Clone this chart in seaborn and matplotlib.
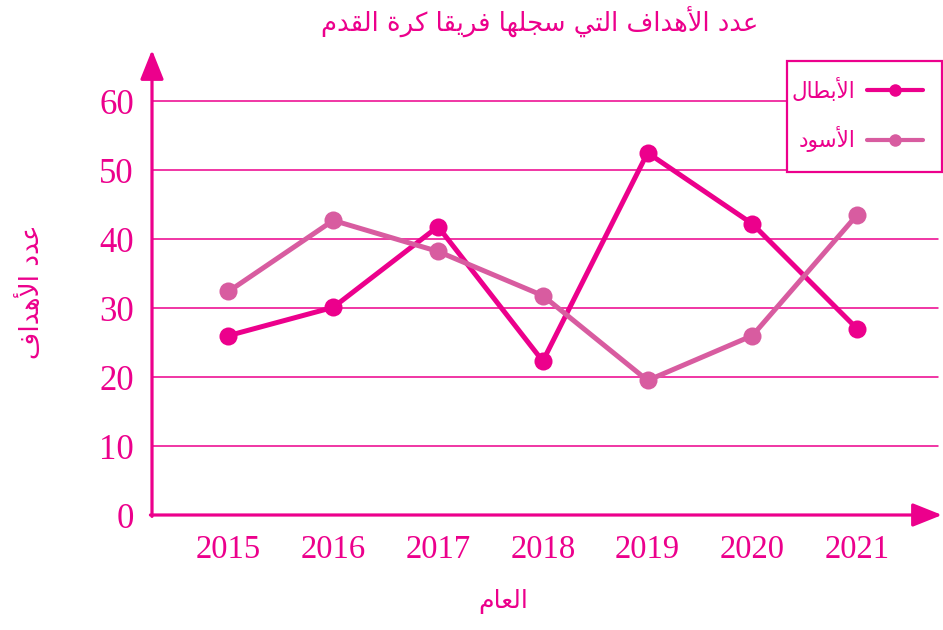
import matplotlib
matplotlib.use("Agg")
import matplotlib.pyplot as plt
from matplotlib.patches import Rectangle
import seaborn as sns
import pandas as pd

# ---- data ----
years = ["2015", "2016", "2017", "2018", "2019", "2020", "2021"]
teams = ["الأبطال", "الأسود"]
goals_abtal = [26, 30.1, 41.8, 22.3, 52.5, 42.2, 27.0]
goals_asood = [32.4, 42.7, 38.2, 31.8, 19.5, 26.0, 43.5]
y_ticks = [0, 10, 20, 30, 40, 50, 60]

title_text = "عدد الأهداف التي سجلها فريقا كرة القدم"
xlabel_text = "العام"
ylabel_text = "عدد الأهداف"

PINK = "#EC008C"
PINK_LIGHT = "#D85CA0"

# ---- minimal Arabic shaping (contextual forms + RTL order) ----
FORMS = {
    "ا": ("\uFE8D", "\uFE8E", None, None),
    "أ": ("\uFE83", "\uFE84", None, None),
    "ب": ("\uFE8F", "\uFE90", "\uFE91", "\uFE92"),
    "ة": ("\uFE93", "\uFE94", None, None),
    "ت": ("\uFE95", "\uFE96", "\uFE97", "\uFE98"),
    "ج": ("\uFE9D", "\uFE9E", "\uFE9F", "\uFEA0"),
    "د": ("\uFEA9", "\uFEAA", None, None),
    "ر": ("\uFEAD", "\uFEAE", None, None),
    "س": ("\uFEB1", "\uFEB2", "\uFEB3", "\uFEB4"),
    "ط": ("\uFEC1", "\uFEC2", "\uFEC3", "\uFEC4"),
    "ع": ("\uFEC9", "\uFECA", "\uFECB", "\uFECC"),
    "ف": ("\uFED1", "\uFED2", "\uFED3", "\uFED4"),
    "ق": ("\uFED5", "\uFED6", "\uFED7", "\uFED8"),
    "ك": ("\uFED9", "\uFEDA", "\uFEDB", "\uFEDC"),
    "ل": ("\uFEDD", "\uFEDE", "\uFEDF", "\uFEE0"),
    "م": ("\uFEE1", "\uFEE2", "\uFEE3", "\uFEE4"),
    "ه": ("\uFEE9", "\uFEEA", "\uFEEB", "\uFEEC"),
    "و": ("\uFEED", "\uFEEE", None, None),
    "ي": ("\uFEF1", "\uFEF2", "\uFEF3", "\uFEF4"),
    "لا": ("\uFEFB", "\uFEFC", None, None),
    "لأ": ("\uFEF7", "\uFEF8", None, None),
}


def shape(text):
    units = []
    i = 0
    while i < len(text):
        c = text[i]
        if c == "ل" and i + 1 < len(text) and text[i + 1] in "اأ":
            units.append(c + text[i + 1])
            i += 2
        else:
            units.append(c)
            i += 1
    out = []
    for k, u in enumerate(units):
        if u not in FORMS:
            out.append(u)
            continue
        prev = units[k - 1] if k > 0 else None
        nxt = units[k + 1] if k + 1 < len(units) else None
        joins_prev = prev in FORMS and FORMS[prev][2] is not None
        joins_next = FORMS[u][2] is not None and nxt in FORMS
        iso, fin, ini, med = FORMS[u]
        if joins_prev and joins_next:
            out.append(med)
        elif joins_prev:
            out.append(fin)
        elif joins_next:
            out.append(ini)
        else:
            out.append(iso)
    return "".join(out)[::-1]


df = pd.DataFrame({
    "year": years * 2,
    "goals": goals_abtal + goals_asood,
    "team": [shape(teams[0])] * len(years) + [shape(teams[1])] * len(years),
})

sns.set_style("white")
plt.rcParams["font.family"] = ["DejaVu Sans"]

W, H = 943, 630
fig = plt.figure(figsize=(W / 100, H / 100), dpi=100)
ax_left, ax_right, ax_bottom, ax_top = 152, 942, 515, 50
ax = fig.add_axes([ax_left / W, 1 - ax_bottom / H,
                   (ax_right - ax_left) / W, (ax_bottom - ax_top) / H])

# horizontal reference lines
for t in y_ticks[1:]:
    ax.axhline(t, xmin=0, xmax=0.995, color=PINK, lw=1.1, zorder=1)

sns.lineplot(data=df, x="year", y="goals", hue="team", sort=False,
             palette=[PINK, PINK_LIGHT], marker="o", markersize=13,
             markeredgewidth=0, linewidth=3.6, ax=ax, zorder=3)

ax.set_xlim(-0.73, 6.81)
ax.set_ylim(0, 67.4)
ax.set_yticks(y_ticks)
ax.set_xticks(range(len(years)))
ax.set_xticklabels(years)
ax.set_xlabel("")
ax.set_ylabel("")
for s in ax.spines.values():
    s.set_visible(False)
ax.tick_params(axis="both", length=0, colors=PINK)
ax.tick_params(axis="y", pad=13, labelsize=25)
ax.tick_params(axis="x", pad=14, labelsize=23.5)
for lab in ax.get_xticklabels() + ax.get_yticklabels():
    lab.set_fontfamily("Liberation Serif")

# axis arrows
arrow_kw = dict(arrowstyle="-|>,head_length=0.9,head_width=0.36",
                color=PINK, lw=2.3, mutation_scale=20, shrinkA=0, shrinkB=0)
ax.annotate("", xy=(0, 1), xytext=(0, -0.003), xycoords="axes fraction",
            arrowprops=arrow_kw, annotation_clip=False)
ax.annotate("", xy=(1, 0), xytext=(-0.002, 0), xycoords="axes fraction",
            arrowprops=arrow_kw, annotation_clip=False)

# legend box (drawn inside the axes so the legend sits on top of it)
box = Rectangle((787 / W, 1 - 172 / H), (942 - 787) / W, (172 - 61) / H,
                transform=fig.transFigure, facecolor="white", edgecolor=PINK,
                linewidth=1.6, zorder=4.5, clip_on=False)
ax.add_patch(box)

# legend: label on the left, line sample on the right
handles, labels = ax.get_legend_handles_labels()
leg = ax.legend(handles, labels, loc="center right",
                bbox_to_anchor=(923 / W, 1 - 115 / H), bbox_transform=fig.transFigure,
                markerfirst=False, frameon=False,
                fontsize=15.5, handlelength=2.6, handletextpad=0.55,
                labelspacing=1.15, borderpad=0, borderaxespad=0)
leg.set_zorder(6)
for txt in leg.get_texts():
    txt.set_color(PINK)
for h in leg.legend_handles:
    h.set_markersize(9)
    h.set_linewidth(3)

fig.text(540 / W, 1 - 22 / H, shape(title_text), ha="center", va="center",
         fontsize=18.6, color=PINK)
fig.text(503 / W, 1 - 602 / H, shape(xlabel_text), ha="center", va="center",
         fontsize=18, color=PINK)
fig.text(32 / W, 1 - 292 / H, shape(ylabel_text), ha="center", va="center",
         fontsize=19, color=PINK, rotation=90)

fig.savefig("out.png", dpi=100, facecolor="white")
